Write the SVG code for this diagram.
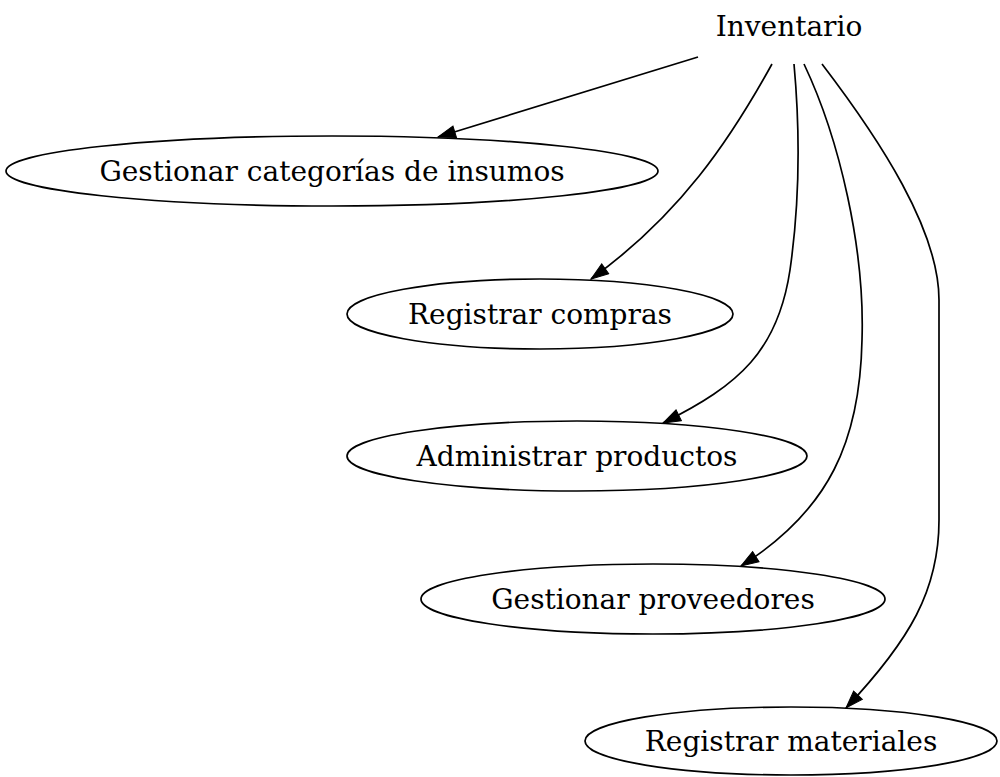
<svg xmlns="http://www.w3.org/2000/svg" width="1000" height="777" viewBox="0 0 1000 777">
<style>
  .node ellipse { fill: none; stroke: #000; stroke-width: 1.7; }
  .node text { font-family: "DejaVu Serif", "Liberation Serif", serif; font-size: 28px; fill: #000; text-anchor: middle; }
  .edge { fill: none; stroke: #000; stroke-width: 1.7; marker-end: url(#arrow); }
</style>
<defs>
  <marker id="arrow" markerUnits="userSpaceOnUse" markerWidth="20" markerHeight="14" refX="18.5" refY="7" orient="auto">
    <path d="M1,1 L18.5,7 L1,13 z" fill="#000" stroke="#000" stroke-width="1"/>
  </marker>
</defs>
<rect width="1000" height="777" fill="#fff"/>
<g id="connectors">
  <path class="edge" d="M698,57 L438,137"/>
  <path class="edge" d="M772,64 C730,140 680,215 591,279"/>
  <path class="edge" d="M794,64 C800,130 800,200 790,270 C778,350 740,385 663,423"/>
  <path class="edge" d="M804,64 C840,140 865,250 862,340 C860,440 830,510 741,566"/>
  <path class="edge" d="M822,64 C880,140 939,230 939,300 L939,520 C939,590 910,640 846,708"/>
</g>
<g id="node-inventario" class="node">
  <text x="789" y="36">Inventario</text>
</g>
<g id="node-categorias" class="node">
  <ellipse cx="332" cy="171" rx="326" ry="35"/>
  <text x="332" y="181">Gestionar categorías de insumos</text>
</g>
<g id="node-compras" class="node">
  <ellipse cx="540" cy="314" rx="193" ry="35"/>
  <text x="540" y="324">Registrar compras</text>
</g>
<g id="node-productos" class="node">
  <ellipse cx="577" cy="456" rx="230" ry="35"/>
  <text x="577" y="466">Administrar productos</text>
</g>
<g id="node-proveedores" class="node">
  <ellipse cx="653" cy="599" rx="232" ry="35"/>
  <text x="653" y="609">Gestionar proveedores</text>
</g>
<g id="node-materiales" class="node">
  <ellipse cx="791" cy="741" rx="206" ry="34"/>
  <text x="791" y="751">Registrar materiales</text>
</g>
</svg>
